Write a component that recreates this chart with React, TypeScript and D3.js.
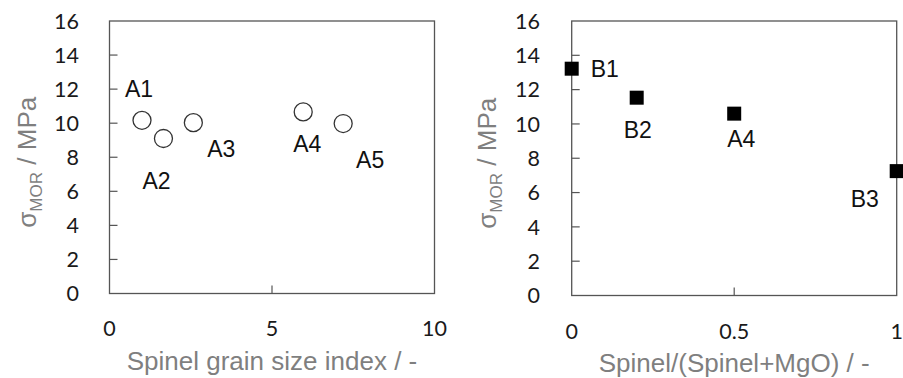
import React from "react";
import * as d3 from "d3";

// Left panel data
const aLabels = ["A1", "A2", "A3", "A4", "A5"];
const aGrain = [1.0, 1.66, 2.58, 5.96, 7.19];
const aMOR = [10.17, 9.1, 10.03, 10.66, 9.98];
const aLabelDx = [-3, -7, 28, 4, 27];
const aLabelDy = [-23, 50, 34, 40, 44];

// Right panel data
const bLabels = ["B1", "B2", "A4", "B3"];
const bRatio = [0, 0.2, 0.5, 1.0];
const bMOR = [13.22, 11.53, 10.6, 7.25];
const bLabelDx = [33, 1, 7, -32];
const bLabelDy = [8, 40, 33, 36];

const yTicks = [0, 2, 4, 6, 8, 10, 12, 14, 16];
const xTicksLeft = [0, 5, 10];
const xTicksRight = [0, 0.5, 1];

const FRAME = "#555555";
const TITLE = "#7f7f7f";
const TICKFONT = "Lato, 'Liberation Sans', sans-serif";
const LABFONT = "'Liberation Sans', Arial, sans-serif";

type PanelProps = {
  x0: number; x1: number; y0: number; y1: number;
  xDomain: [number, number]; xTicks: number[]; xTickFmt: (v: number) => string;
  xTickY: number; yTickX: number; xTitle: string; xTitleY: number; yTitleX: number;
  children: (x: d3.ScaleLinear<number, number>, y: d3.ScaleLinear<number, number>) => React.ReactNode;
};

function Panel(p: PanelProps) {
  const x = d3.scaleLinear().domain(p.xDomain).range([p.x0, p.x1]);
  const y = d3.scaleLinear().domain([0, 16]).range([p.y0, p.y1]);
  const tl = 8;
  const yMid = (p.y0 + p.y1) / 2 + 5;
  return (
    <g>
      <rect x={p.x0} y={p.y1} width={p.x1 - p.x0} height={p.y0 - p.y1} fill="none" stroke={FRAME} strokeWidth={1.3} />
      {yTicks.slice(1, -1).map((t) => (
        <line key={"yt" + t} x1={p.x0} x2={p.x0 + tl} y1={y(t)} y2={y(t)} stroke={FRAME} strokeWidth={1.2} />
      ))}
      {p.xTicks.slice(1, -1).map((t) => (
        <line key={"xt" + t} x1={x(t)} x2={x(t)} y1={p.y0} y2={p.y0 - tl} stroke={FRAME} strokeWidth={1.2} />
      ))}
      {yTicks.map((t) => (
        <text key={"yl" + t} x={p.yTickX} y={y(t)} dy="0.36em" textAnchor="end" fontFamily={TICKFONT} fontSize={21.5} fill="#1a1a1a">{t}</text>
      ))}
      {p.xTicks.map((t) => (
        <text key={"xl" + t} x={x(t)} y={p.xTickY} dy="0.36em" textAnchor="middle" fontFamily={TICKFONT} fontSize={21.5} fill="#1a1a1a">{p.xTickFmt(t)}</text>
      ))}
      <text x={(p.x0 + p.x1) / 2} y={p.xTitleY} dy="0.36em" textAnchor="middle" fontFamily={LABFONT} fontSize={26} fill={TITLE}>{p.xTitle}</text>
      <text transform={`translate(${p.yTitleX},${yMid}) rotate(-90)`} textAnchor="middle" dy="0.36em" fontFamily={LABFONT} fontSize={26} fill={TITLE}>
        σ<tspan fontSize={17} dy="6">MOR</tspan><tspan dy="-6"> / MPa</tspan>
      </text>
      {p.children(x, y)}
    </g>
  );
}

export default function App() {
  return (
    <svg width={903} height={378} style={{ position: "absolute", left: 0, top: 0, background: "#fff" }}>
      <rect width={903} height={378} fill="#fff" />
      <Panel x0={109.5} x1={434.5} y0={293.5} y1={21} xDomain={[0, 10]} xTicks={xTicksLeft}
        xTickFmt={(v) => String(v)} xTickY={328} yTickX={79} xTitle="Spinel grain size index / -" xTitleY={361} yTitleX={27}>
        {(x, y) => (
          <g>
            {aGrain.map((g, i) => (
              <circle key={"c" + i} cx={x(g)} cy={y(aMOR[i])} r={9} fill="#fff" stroke="#333" strokeWidth={1.3} />
            ))}
            {aGrain.map((g, i) => (
              <text key={"t" + i} x={x(g) + aLabelDx[i]} y={y(aMOR[i]) + aLabelDy[i]} textAnchor="middle"
                fontFamily={LABFONT} fontSize={23} fill="#111">{aLabels[i]}</text>
            ))}
          </g>
        )}
      </Panel>
      <Panel x0={571.7} x1={896.7} y0={295.5} y1={21} xDomain={[0, 1]} xTicks={xTicksRight}
        xTickFmt={(v) => String(v)} xTickY={331.7} yTickX={540} xTitle="Spinel/(Spinel+MgO) / -" xTitleY={363} yTitleX={487}>
        {(x, y) => (
          <g>
            {bRatio.map((r, i) => (
              <rect key={"s" + i} x={x(r) - 7} y={y(bMOR[i]) - 7} width={14} height={14} fill="#000" />
            ))}
            {bRatio.map((r, i) => (
              <text key={"t" + i} x={x(r) + bLabelDx[i]} y={y(bMOR[i]) + bLabelDy[i]} textAnchor="middle"
                fontFamily={LABFONT} fontSize={23} fill="#111">{bLabels[i]}</text>
            ))}
          </g>
        )}
      </Panel>
    </svg>
  );
}
